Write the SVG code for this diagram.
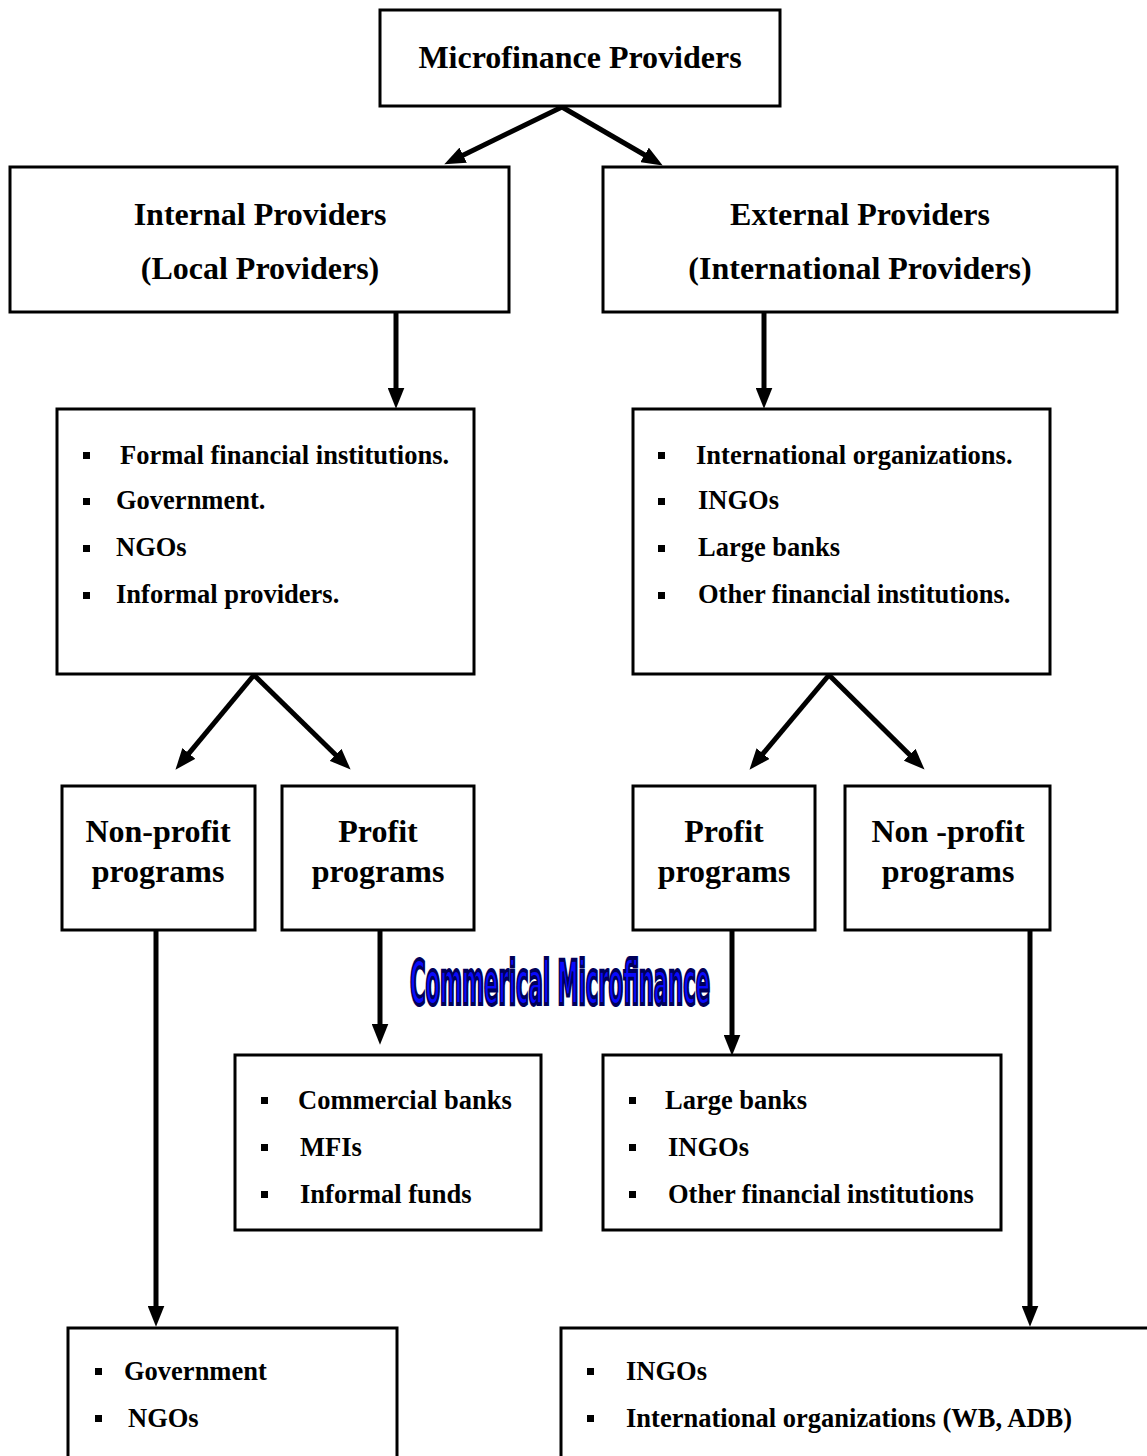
<svg xmlns="http://www.w3.org/2000/svg" width="1147" height="1456" viewBox="0 0 1147 1456">
  <style>
    .box { fill: #ffffff; stroke: #000000; stroke-width: 3; }
    .edge { stroke: #000000; stroke-width: 5; fill: none; marker-end: url(#head); }
    .title { font-family: "Liberation Serif", "Times New Roman", serif; font-weight: bold; font-size: 32px; fill: #000000; text-anchor: middle; }
    .item { font-family: "Liberation Serif", "Times New Roman", serif; font-weight: bold; font-size: 26.5px; fill: #000000; }
    .dot { fill: #000000; }
    .banner { font-family: "Liberation Sans Narrow", "DejaVu Sans Condensed", "Liberation Sans", sans-serif; font-weight: bold; font-size: 40px; fill: #0a0aff; stroke: #00005a; stroke-width: 2.6; }
  </style>
  <defs>
    <marker id="head" viewBox="0 0 20 16" refX="4" refY="8" markerWidth="21" markerHeight="17" markerUnits="userSpaceOnUse" orient="auto">
      <path d="M0,0 L20,8 L0,16 z" fill="#000000"/>
    </marker>
  </defs>

  <rect width="1147" height="1456" fill="#ffffff"/>

  <!-- connectors -->
  <g id="connectors">
    <line class="edge" x1="562" y1="107" x2="459.4" y2="157"/>
    <line class="edge" x1="562" y1="107" x2="648.2" y2="157"/>
    <line class="edge" x1="396" y1="312" x2="396" y2="392"/>
    <line class="edge" x1="764" y1="312" x2="764" y2="392"/>
    <line class="edge" x1="254" y1="675" x2="186.2" y2="756.7"/>
    <line class="edge" x1="254" y1="675" x2="338.6" y2="757.8"/>
    <line class="edge" x1="829" y1="675" x2="760.3" y2="756.8"/>
    <line class="edge" x1="829" y1="675" x2="912.6" y2="757.7"/>
    <line class="edge" x1="156" y1="930" x2="156" y2="1310"/>
    <line class="edge" x1="380" y1="930" x2="380" y2="1028"/>
    <line class="edge" x1="732" y1="924" x2="732" y2="1039"/>
    <line class="edge" x1="1030" y1="930" x2="1030" y2="1310"/>
  </g>

  <!-- root -->
  <g id="root">
    <rect class="box" x="380" y="10" width="400" height="96"/>
    <text class="title" x="580" y="68">Microfinance Providers</text>
  </g>

  <!-- second level -->
  <g id="internal">
    <rect class="box" x="10" y="167" width="499" height="145"/>
    <text class="title" x="260" y="225">Internal Providers</text>
    <text class="title" x="260" y="279">(Local Providers)</text>
  </g>
  <g id="external">
    <rect class="box" x="603" y="167" width="514" height="145"/>
    <text class="title" x="860" y="225">External Providers</text>
    <text class="title" x="860" y="279">(International Providers)</text>
  </g>

  <!-- provider lists -->
  <g id="internal-list">
    <rect class="box" x="57" y="409" width="417" height="265"/>
    <rect class="dot" x="83" y="452" width="7" height="7"/>
    <text class="item" x="120" y="464">Formal financial institutions.</text>
    <rect class="dot" x="83" y="498" width="7" height="7"/>
    <text class="item" x="116" y="509">Government.</text>
    <rect class="dot" x="83" y="545" width="7" height="7"/>
    <text class="item" x="116" y="556">NGOs</text>
    <rect class="dot" x="83" y="592" width="7" height="7"/>
    <text class="item" x="116" y="603">Informal providers.</text>
  </g>
  <g id="external-list">
    <rect class="box" x="633" y="409" width="417" height="265"/>
    <rect class="dot" x="658" y="452" width="7" height="7"/>
    <text class="item" x="696" y="464">International organizations.</text>
    <rect class="dot" x="658" y="498" width="7" height="7"/>
    <text class="item" x="698" y="509">INGOs</text>
    <rect class="dot" x="658" y="545" width="7" height="7"/>
    <text class="item" x="698" y="556">Large banks</text>
    <rect class="dot" x="658" y="592" width="7" height="7"/>
    <text class="item" x="698" y="603">Other financial institutions.</text>
  </g>

  <!-- programme types -->
  <g id="local-nonprofit">
    <rect class="box" x="62" y="786" width="193" height="144"/>
    <text class="title" x="158" y="842">Non-profit</text>
    <text class="title" x="158" y="882">programs</text>
  </g>
  <g id="local-profit">
    <rect class="box" x="282" y="786" width="192" height="144"/>
    <text class="title" x="378" y="842">Profit</text>
    <text class="title" x="378" y="882">programs</text>
  </g>
  <g id="intl-profit">
    <rect class="box" x="633" y="786" width="182" height="144"/>
    <text class="title" x="724" y="842">Profit</text>
    <text class="title" x="724" y="882">programs</text>
  </g>
  <g id="intl-nonprofit">
    <rect class="box" x="845" y="786" width="205" height="144"/>
    <text class="title" x="948" y="842">Non -profit</text>
    <text class="title" x="948" y="882">programs</text>
  </g>

  <!-- banner -->
  <g id="commercial-label">
    <text class="banner" x="410" y="669.3" textLength="300" lengthAdjust="spacingAndGlyphs" transform="scale(1,1.5)">Commerical Microfinance</text>
  </g>

  <!-- profit provider lists -->
  <g id="local-profit-list">
    <rect class="box" x="235" y="1055" width="306" height="175"/>
    <rect class="dot" x="261" y="1097" width="7" height="7"/>
    <text class="item" x="298" y="1109">Commercial banks</text>
    <rect class="dot" x="261" y="1144" width="7" height="7"/>
    <text class="item" x="300" y="1156">MFIs</text>
    <rect class="dot" x="261" y="1191" width="7" height="7"/>
    <text class="item" x="300" y="1203">Informal funds</text>
  </g>
  <g id="intl-profit-list">
    <rect class="box" x="603" y="1055" width="398" height="175"/>
    <rect class="dot" x="629" y="1097" width="7" height="7"/>
    <text class="item" x="665" y="1109">Large banks</text>
    <rect class="dot" x="629" y="1144" width="7" height="7"/>
    <text class="item" x="668" y="1156">INGOs</text>
    <rect class="dot" x="629" y="1191" width="7" height="7"/>
    <text class="item" x="668" y="1203">Other financial institutions</text>
  </g>

  <!-- non-profit provider lists -->
  <g id="local-nonprofit-list">
    <rect class="box" x="68" y="1328" width="329" height="200"/>
    <rect class="dot" x="95" y="1368" width="7" height="7"/>
    <text class="item" x="124" y="1380">Government</text>
    <rect class="dot" x="95" y="1415" width="7" height="7"/>
    <text class="item" x="128" y="1427">NGOs</text>
  </g>
  <g id="intl-nonprofit-list">
    <rect class="box" x="561" y="1328" width="620" height="200"/>
    <rect class="dot" x="587" y="1368" width="7" height="7"/>
    <text class="item" x="626" y="1380">INGOs</text>
    <rect class="dot" x="587" y="1415" width="7" height="7"/>
    <text class="item" x="626" y="1427">International organizations (WB, ADB)</text>
  </g>
</svg>
